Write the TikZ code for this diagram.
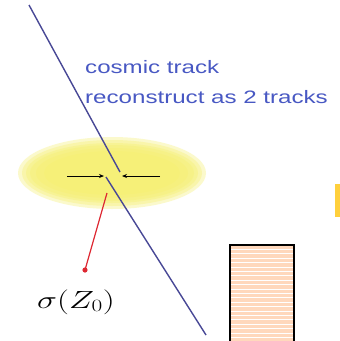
\documentclass[tikz,border=0pt]{standalone}
\usepackage{fontspec}
\usepackage{graphicx}
\newfontfamily\arialfont{Liberation Sans}
\usetikzlibrary{arrows.meta}
\definecolor{trackblue}{RGB}{72,72,150}
\definecolor{textblue}{RGB}{72,88,195}
\definecolor{glowyellow}{RGB}{246,240,110}
\definecolor{peach}{RGB}{255,216,188}
\definecolor{gold}{RGB}{255,208,60}
\definecolor{redline}{RGB}{222,40,50}
\tikzset{
  track/.style={draw=trackblue, line width=1.4pt},
  gap/.style={draw=black, line width=1pt, -{Stealth[length=5pt,width=4pt]}},
  pointer/.style={draw=redline, line width=1.2pt},
  label/.style={inner sep=0pt, anchor=base west, text=textblue, font=\arialfont\fontsize{18}{21}\selectfont},
}
\begin{document}
\begin{tikzpicture}[x=1pt,y=-1pt]
\useasboundingbox (0,0) rectangle (340,341);
\fill[white] (0,0) rectangle (340,341);
% yellow glow
\foreach \r/\s in {94/36,90/33,86/30,82/28,76/25,68/22}{
  \fill[glowyellow, opacity=0.35] (112,173) ellipse [x radius=\r, y radius=\s];
}
% tracks
\coordinate (t1a) at (29,5);
\coordinate (t1b) at (120,172);
\coordinate (t2a) at (106,177);
\coordinate (t2b) at (206,335);
\draw[track] (t1a) -- (t1b);
\draw[track] (t2a) -- (t2b);
% gap arrows
\coordinate (la) at (67,176);
\coordinate (lb) at (104,176);
\coordinate (ra) at (160,176);
\coordinate (rb) at (122,176);
\draw[gap] (la) -- (lb);
\draw[gap] (ra) -- (rb);
% text
\node[label] (l1) at (85,73) {\scalebox{1.34}[1]{cosmic track}};
\node[label] (l2) at (85,103) {\scalebox{1.34}[1]{reconstruct as 2 tracks}};
% red pointer
\coordinate (pa) at (107,193);
\coordinate (pb) at (85,270);
\draw[pointer] (pa) -- (pb);
\fill[redline] (pb) circle (2.6);
\node[inner sep=0pt] (sig) at (76,302) {\scalebox{1.35}[1]{\fontsize{24}{28}\selectfont$\sigma(Z_{0})$}};
% striped box
\begin{scope}
\clip (0,0) rectangle (340,341);
\fill[peach] (230,245) rectangle (294,345);
\foreach \y in {249.5,253.9,...,345}{
  \draw[white, line width=1.1pt] (231,\y) -- (293,\y);
}
\draw[black, line width=1.6pt] (230,345) -- (230,245) -- (294,245) -- (294,345);
\end{scope}
% gold edge
\fill[gold] (335,184) rectangle (340,217);
\end{tikzpicture}
\end{document}
